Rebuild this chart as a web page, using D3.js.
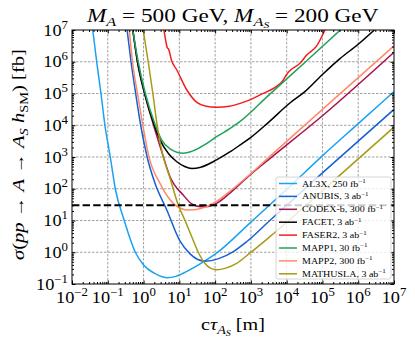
<!DOCTYPE html>
<html>
<head>
<meta charset="utf-8">
<script src="https://cdn.jsdelivr.net/npm/d3@7"></script>
<style>
  body { margin: 0; background: #fff; }
  text { font-family: "Liberation Serif", "DejaVu Serif", serif; fill: #000; }
</style>
</head>
<body>
<div id="chart"></div>
<script>

var width = 415;
var height = 341;
var margin = {top: 30, right: 21, bottom: 57, left: 72};
var plotW = width - margin.left - margin.right;
var plotH = height - margin.top - margin.bottom;

// curves, as [log10 c*tau (m), log10 sigma (fb)]
var al3x = [[-1.42,7],[-1.31,6],[-1.19,5],[-1.08,4],[-0.93,3],[-0.79,2],[-0.54,1],[-0.23,0],[0,-0.4],
  [0.3,-0.66],[0.65,-0.8],[0.9,-0.76],[1.11,-0.66],[1.5,-0.42],[2.04,-0.03],[3,0.95],[4,1.98],[5.02,3.06],[6,4.05],[7,5.06]];
var anubis = [[-0.46,7],[-0.35,6],[-0.22,5],[-0.08,4],[0.1,3],[0.32,2.17],[0.65,1.33],[1.02,0.35],[1.3,-0.05],
  [1.5,-0.22],[1.72,-0.28],[2.1,-0.2],[2.51,0.02],[2.88,0.33],[3.53,1.0],[5,2.5],[7,4.5]];
var codexb = [[-0.3,7],[-0.17,6],[0.03,5],[0.28,4],[0.5,3.2],[0.74,2.38],[1.11,1.8],[1.35,1.52],[1.6,1.43],
  [1.8,1.44],[2.04,1.54],[2.5,1.95],[2.97,2.43],[3.53,2.95],[5,4.3],[7,6.3]];
var facet = [[-0.3,7],[-0.17,6],[0.03,5],[0.3,4],[0.46,3.54],[0.7,3.1],[0.93,2.85],[1.15,2.7],[1.35,2.64],
  [1.6,2.68],[2.04,2.91],[2.4,3.15],[2.7,3.38],[3.0,3.62],[3.5,4.1],[4.09,4.7],[4.5,5.05],[5.0,5.6],[5.49,6.1],
  [6.0,6.55],[6.45,7.0]];
var faser2 = [[0.57,7],[0.63,6.6],[0.66,6.45],[0.7,6.4],[0.78,6.05],[0.93,5.74],[1.21,5.11],[1.49,4.72],
  [1.75,4.6],[2.04,4.57],[2.4,4.6],[2.7,4.69],[2.97,4.8],[3.3,4.98],[3.63,5.16],[3.91,5.43],[4.0,5.6],
  [4.09,5.72],[4.37,5.95],[4.56,6.21],[4.84,6.5],[5.07,7.0]];
var mapp1 = [[-0.3,7],[-0.15,6],[0.05,5],[0.33,4],[0.5,3.55],[0.75,3.25],[1.11,3.12],[1.4,3.2],[1.7,3.38],
  [2.04,3.64],[2.42,3.9],[2.7,4.12],[3.5,4.95],[4.5,5.97],[5.5,7.0]];
var mapp2 = [[-0.4,7],[-0.31,6],[-0.17,5],[-0.02,4],[0.14,3.05],[0.46,2.17],[0.83,1.54],[1.05,1.38],
  [1.25,1.33],[1.6,1.38],[2.04,1.6],[2.5,2.0],[2.97,2.45],[3.53,3.02],[5,4.5],[7,6.5]];
var mathusla = [[-0.01,7],[0.13,6],[0.26,5],[0.38,4],[0.53,3.1],[0.75,2.3],[0.97,1.49],[1.16,1.0],[1.35,0.48],
  [1.53,0.0],[1.7,-0.33],[1.87,-0.5],[2.04,-0.55],[2.3,-0.5],[2.6,-0.35],[2.97,-0.03],[3.53,0.49],[5,1.94],[7,3.94]];

var names = ["AL3X", "ANUBIS", "CODEX-b", "FACET", "FASER2", "MAPP1", "MAPP2", "MATHUSLA"];
var lumis = ["250 fb", "3 ab", "300 fb", "3 ab", "3 ab", "30 fb", "300 fb", "3 ab"];
var curves = [al3x, anubis, codexb, facet, faser2, mapp1, mapp2, mathusla];
var colors = ["#18a2f2", "#1760d2", "#a8124e", "#000000", "#f41c1c", "#1fa35a", "#ff8a6b", "#a89a14"];

var threshold = 30; // fb
var xExp = d3.range(-2, 8);
var yExp = d3.range(-1, 8);

var svg = d3.select("#chart")
  .append("svg")
    .attr("width", width)
    .attr("height", height);

var x = d3.scaleLog().domain([1e-2, 1e7]).range([margin.left, margin.left + plotW]);
var y = d3.scaleLog().domain([1e-1, 1e7]).range([margin.top + plotH, margin.top]);

svg.append("clipPath").attr("id", "clip")
  .append("rect")
    .attr("x", margin.left).attr("y", margin.top)
    .attr("width", plotW).attr("height", plotH);

// grid
var grid = svg.append("g")
  .attr("stroke", "#888")
  .attr("stroke-width", 0.8)
  .attr("stroke-dasharray", "2.5,1.5");
grid.selectAll("line.gx")
  .data(xExp.slice(1, -1))
  .enter().append("line")
    .attr("x1", function(d) { return x(Math.pow(10, d)); })
    .attr("x2", function(d) { return x(Math.pow(10, d)); })
    .attr("y1", margin.top).attr("y2", margin.top + plotH);
grid.selectAll("line.gy")
  .data(yExp.slice(1, -1))
  .enter().append("line")
    .attr("y1", function(d) { return y(Math.pow(10, d)); })
    .attr("y2", function(d) { return y(Math.pow(10, d)); })
    .attr("x1", margin.left).attr("x2", margin.left + plotW);

// curves
var line = d3.line()
  .x(function(d) { return x(Math.pow(10, d[0])); })
  .y(function(d) { return y(Math.pow(10, d[1])); })
  .curve(d3.curveMonotoneX);

var plot = svg.append("g").attr("clip-path", "url(#clip)");
curves.forEach(function(c, i) {
  plot.append("path")
    .datum(c)
    .attr("fill", "none")
    .attr("stroke", colors[i])
    .attr("stroke-width", 1.5)
    .attr("d", line);
});

plot.append("line")
  .attr("x1", margin.left).attr("x2", margin.left + plotW)
  .attr("y1", y(threshold)).attr("y2", y(threshold))
  .attr("stroke", "#000")
  .attr("stroke-width", 2)
  .attr("stroke-dasharray", "7.4,3.2");

// ticks, all inward on four sides
function minorTicks(exps) {
  var t = [];
  for (var i = 0; i < exps.length - 1; i++) {
    for (var k = 2; k < 10; k++) t.push(k * Math.pow(10, exps[i]));
  }
  return t;
}
var xMajor = xExp.map(function(e) { return Math.pow(10, e); });
var yMajor = yExp.map(function(e) { return Math.pow(10, e); });

function addAxis(axisFn, scale, major, minor, tr) {
  svg.append("g").attr("transform", tr)
    .call(axisFn(scale).tickValues(minor).tickSize(-2).tickFormat(""))
    .call(function(g) { g.select(".domain").remove(); });
  svg.append("g").attr("transform", tr)
    .call(axisFn(scale).tickValues(major).tickSize(-3.5).tickFormat(""))
    .call(function(g) { g.select(".domain").remove(); });
}
addAxis(d3.axisBottom, x, xMajor, minorTicks(xExp), "translate(0," + (margin.top + plotH) + ")");
addAxis(d3.axisTop, x, xMajor, minorTicks(xExp), "translate(0," + margin.top + ")");
addAxis(d3.axisLeft, y, yMajor, minorTicks(yExp), "translate(" + margin.left + ",0)");
addAxis(d3.axisRight, y, yMajor, minorTicks(yExp), "translate(" + (margin.left + plotW) + ",0)");

svg.append("rect")
  .attr("x", margin.left).attr("y", margin.top)
  .attr("width", plotW).attr("height", plotH)
  .attr("fill", "none").attr("stroke", "#000").attr("stroke-width", 1);

// math-ish text: parts of [text, italic, level]  level 0 normal, 1 sub, 2 subsub, -1 sup
function mathText(sel, parts, size) {
  var off = {"0": 0, "1": 0.22, "2": 0.36, "-1": -0.42};
  var fs = {"0": 1, "1": 0.7, "2": 0.5, "-1": 0.7};
  var prev = 0;
  parts.forEach(function(p) {
    var lv = p[2] || 0;
    sel.append("tspan")
      .attr("dy", ((off[lv] - off[prev]) * size).toFixed(2))
      .attr("font-size", size * fs[lv])
      .attr("font-style", p[1] ? "italic" : "normal")
      .text(p[0]);
    prev = lv;
  });
  return sel;
}

// Computer Modern is wider than the installed serif: stretch text horizontally
function placed(px, py, anchor, sx, rot) {
  return svg.append("text")
    .attr("text-anchor", anchor)
    .attr("transform", "translate(" + px + "," + py + ")" + (rot ? " rotate(" + rot + ")" : "") +
      " scale(" + sx + ",1)");
}
function stretchTo(sel, target) {
  var w = sel.node().getBBox().width;
  return target / w;
}

// tick labels
function expLabel(e) { return [["10", false, 0], [String(e).replace("-", "\u2212"), false, -1]]; }
var probe = mathText(svg.append("text"), expLabel(7), 16.5);
var tickSx = stretchTo(probe, 25);
probe.remove();

xExp.forEach(function(e) {
  mathText(placed(x(Math.pow(10, e)), 303, "middle", tickSx), expLabel(e), 16.5);
});
yExp.forEach(function(e) {
  mathText(placed(68, y(Math.pow(10, e)) + 5.5, "end", tickSx), expLabel(e), 16.5);
});

// title and axis labels
var titleParts = [["M", true, 0], ["A", true, 1], [" = 500 GeV, ", false, 0], ["M", true, 0],
  ["A", true, 1], ["S", true, 2], [" = 200 GeV", false, 0]];
probe = mathText(svg.append("text"), titleParts, 18);
var titleSx = stretchTo(probe, 293);
probe.remove();
mathText(placed(87, 22, "start", titleSx), titleParts, 18);

var xlParts = [["c", false, 0], ["\u03c4", true, 0], ["A", true, 1], ["S", true, 2], [" [m]", false, 0]];
probe = mathText(svg.append("text"), xlParts, 17);
var xlSx = stretchTo(probe, 64);
probe.remove();
mathText(placed(201, 330, "start", xlSx), xlParts, 17);

var ylParts = [["\u03c3", true, 0], ["(", false, 0], ["pp", true, 0], [" \u2192 ", false, 0], ["A", true, 0],
  [" \u2192 ", false, 0], ["A", true, 0], ["S", true, 1], [" h", true, 0], ["SM", false, 1],
  [")  [fb]", false, 0]];
probe = mathText(svg.append("text"), ylParts, 16.5);
var ylSx = stretchTo(probe, 211);
probe.remove();
mathText(placed(24, 260, "start", ylSx, -90), ylParts, 16.5);

// legend
var lg = svg.append("g");
lg.append("rect")
  .attr("x", 276).attr("y", 177).attr("width", 115).attr("height", 102)
  .attr("rx", 2)
  .attr("fill", "#fff").attr("fill-opacity", 0.8)
  .attr("stroke", "#ccc").attr("stroke-width", 0.8);

function legendParts(i) { return [[names[i] + ", " + lumis[i], false, 0], ["\u22121", false, -1]]; }
probe = mathText(svg.append("text"), legendParts(7), 8.5);
var legSx = stretchTo(probe, 84);
probe.remove();

names.forEach(function(n, i) {
  var yy = 183.5 + i * 12.9;
  lg.append("line")
    .attr("x1", 279).attr("x2", 297)
    .attr("y1", yy).attr("y2", yy)
    .attr("stroke", colors[i]).attr("stroke-width", 1.5);
  var t = lg.append("text")
    .attr("transform", "translate(302," + (yy + 3) + ") scale(" + legSx + ",1)");
  mathText(t, legendParts(i), 8.5);
});

</script>
</body>
</html>
